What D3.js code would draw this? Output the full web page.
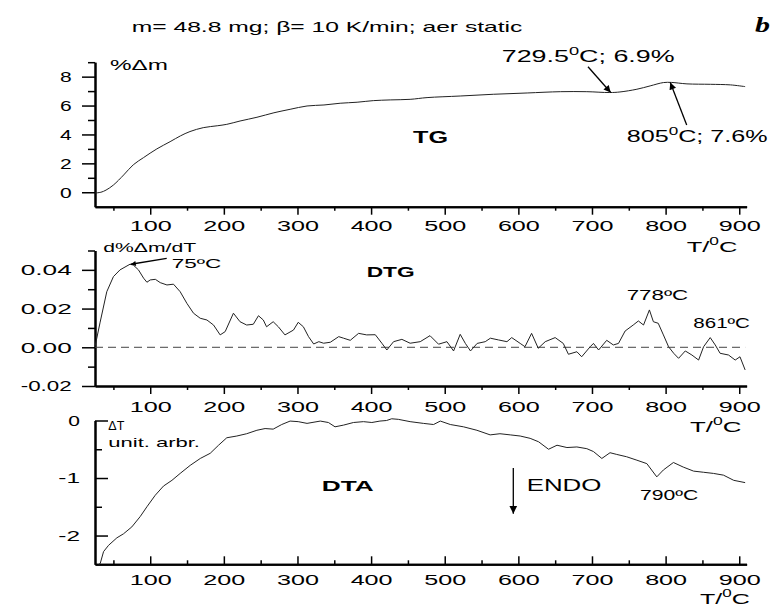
<!DOCTYPE html>
<html><head><meta charset="utf-8">
<script src="https://cdn.jsdelivr.net/npm/d3@7"></script>
<style>body{margin:0;background:#fff}svg{display:block}</style>
</head><body><svg id="c" width="781" height="605"></svg>
<script>
// ---------- data ----------
const tgT = [25,33,40,50,64,77,91,109,127,141,154,172,191,204,222,245,268,290,313,336,358,381,403,426,453,476,521,566,612,657,693,724,738,761,779,797,808,829,861,888,908];
const tgV = [-0.05,0.0,0.15,0.5,1.2,1.9,2.4,3.0,3.5,3.9,4.2,4.47,4.6,4.7,4.93,5.19,5.5,5.74,5.97,6.04,6.16,6.23,6.34,6.39,6.43,6.55,6.66,6.78,6.87,6.96,6.96,6.9,6.94,7.13,7.36,7.59,7.6,7.5,7.47,7.43,7.31];

const dtgT = [25,32,41,50,59,72.5,77,84,91,95.5,100,107,113.6,122.7,131.6,140.7,149.8,158.8,167.9,177,186,195,201.8,213,222,231,240,247,253.6,258,267,274,283,294.6,301,308,315,322,329,335.5,344.6,356,362.6,371.7,383,394,405.7,414.6,421.4,430.5,441.8,453,466.7,480,491.6,503,512,521,528,535,544,555,562,573,584.5,591,602.5,609,618,627,636.5,650,661,668,679.5,686,697.6,702,709,720,729,736,745,756,763,770,778,783.4,790,797,804,811,817.6,826.7,835.7,844.8,851.6,860.6,867.4,874,885.5,894.5,901,908];
const dtgV = [0.0003,0.013,0.0287,0.0365,0.040,0.0429,0.0425,0.040,0.0357,0.0336,0.0348,0.0351,0.0334,0.0322,0.0326,0.0287,0.0227,0.0176,0.015,0.0141,0.0115,0.0064,0.0081,0.0176,0.0132,0.0115,0.0119,0.0163,0.0141,0.0106,0.0132,0.0106,0.0064,0.0089,0.0129,0.0106,0.0055,0.0017,0.0029,0.0021,0.0026,0.0055,0.0047,0.0036,0.0072,0.0064,0.0065,0.0021,-0.0014,0.0029,0.0041,0.0021,0.0029,0.006,0.0016,0.0029,-0.0019,0.0067,0.002,-0.0019,0.002,0.0029,0.0047,0.0038,0.0029,0.005,0.002,0.0003,0.0072,-0.0005,0.0029,0.005,0.002,-0.0036,-0.0023,-0.0049,0.0003,0.002,-0.0014,0.0036,0.0012,0.002,0.0084,0.0115,0.0136,0.0115,0.0193,0.0132,0.0124,0.0064,0.0003,-0.0031,-0.0057,-0.0019,-0.004,-0.0066,0.0003,0.005,0.0012,-0.0031,-0.004,-0.0066,-0.0049,-0.0117];

const dtaT = [30,32,36.6,43.4,54.7,63.7,75,86.4,95.5,106.8,118,129.5,140.7,154.3,168,181.5,192.8,204,217.6,231,244.9,256,267,278.6,290,301,313,331,342,351,362.6,376,389.6,401,412,421,428,437,453,471,484.8,494,507.6,525.5,543.7,561.7,575,589,602.5,616,627.5,641,652.5,666,679.5,693,702,713.4,724.5,733.6,747,761,774.5,788,797,810.6,824,838,851.6,865,878.6,892.5,908];
const dtaV = [-2.5,-2.49,-2.28,-2.17,-2.04,-1.97,-1.85,-1.67,-1.50,-1.30,-1.14,-1.04,-0.92,-0.78,-0.66,-0.57,-0.43,-0.30,-0.27,-0.23,-0.17,-0.14,-0.15,-0.07,-0.01,-0.02,-0.05,-0.01,-0.035,-0.11,-0.08,-0.035,-0.02,-0.035,-0.01,0.0,0.03,0.02,-0.02,-0.05,-0.07,-0.01,-0.07,-0.11,-0.17,-0.25,-0.23,-0.25,-0.27,-0.31,-0.37,-0.50,-0.43,-0.47,-0.46,-0.49,-0.54,-0.66,-0.56,-0.59,-0.63,-0.69,-0.75,-0.98,-0.86,-0.73,-0.81,-0.88,-0.90,-0.92,-0.95,-1.04,-1.08];

const xMajor = [100,200,300,400,500,600,700,800,900];
const xMinor = [50,150,250,350,450,550,650,750,850];
const tgMajor = [0,2,4,6,8], tgMinor = [1,3,5,7,9];
const dtgMajor = [-0.02,0,0.02,0.04], dtgMinor = [-0.01,0.01,0.03,0.05];
const dtaMajor = [-2,-1,0], dtaMinor = [-1.5,-0.5];

const tgNoteT = [729.5, 805], tgNoteV = [6.9, 7.6];
const dtgPeakT = 75, dtgPeakV = 0.0429;

// ---------- setup ----------
const svg = d3.select('#c');
const FONT = "'Liberation Sans', Arial, Helvetica, sans-serif";
const x = d3.scaleLinear().domain([25, 910]).range([95, 746.6]);
const yTG = d3.scaleLinear().domain([-1, 9]).range([206.7, 62.2]);
const yDTG = d3.scaleLinear().domain([-0.02, 0.05]).range([386, 250.5]);
const yDTA = d3.scaleLinear().domain([-2.5, 0]).range([564.3, 420.5]);

const defs = svg.append('defs');
function marker(id, w, h) {
  defs.append('marker').attr('id', id).attr('viewBox', '0 0 10 10')
    .attr('refX', 10).attr('refY', 5).attr('markerWidth', w).attr('markerHeight', h)
    .attr('markerUnits', 'userSpaceOnUse').attr('orient', 'auto')
    .append('path').attr('d', 'M0,0 L10,5 L0,10 Z').attr('fill', '#000');
}
marker('ah', 10, 7); marker('ah2', 15, 5); marker('ah3', 8, 10);

function styleAxis(g) {
  g.select('.domain').attr('stroke', '#000').attr('stroke-width', 2);
  g.selectAll('.tick line').attr('stroke', '#000').attr('stroke-width', 1.5);
  g.selectAll('text').attr('font-family', FONT).attr('font-size', 15).attr('fill', '#000');
}
// target rendered widths of tick labels (the original is horizontally stretched)
function tickWidth(str) {
  if (str.includes('.')) return 51;
  if (str.length === 1) return 11.7;
  if (str.length === 2) return 21.7;
  return 42;
}
function stretchTicks(g, off) {
  g.selectAll('.tick text').each(function () {
    const t = d3.select(this);
    t.text(t.text().replace('−', '-'));
    t.attr('transform', null);
    const bb = this.getBBox();
    const s = tickWidth(t.text()) / bb.width;
    t.attr('transform', `scale(${s},1)`);
    if (off !== null) t.attr('x', -off / s);
  });
}

function axes(y, yMaj, yMin, fmt, inward, xPad, yPad) {
  const s = inward ? -1 : 1;
  const y0 = y.range()[0];
  const gxm = svg.append('g').attr('transform', `translate(0,${y0})`)
    .call(d3.axisBottom(x).tickValues(xMinor).tickSize(s * 4).tickSizeOuter(0).tickFormat(''));
  styleAxis(gxm);
  const gx = svg.append('g').attr('transform', `translate(0,${y0})`)
    .call(d3.axisBottom(x).tickValues(xMajor).tickSize(s * 8).tickSizeOuter(0).tickPadding(xPad));
  styleAxis(gx);
  stretchTicks(gx, null);
  const gym = svg.append('g').attr('transform', `translate(95,0)`)
    .call(d3.axisLeft(y).tickValues(yMin).tickSize(s * 7).tickSizeOuter(0).tickFormat(''));
  styleAxis(gym);
  const gy = svg.append('g').attr('transform', `translate(95,0)`)
    .call(d3.axisLeft(y).tickValues(yMaj).tickSize(s * 13).tickSizeOuter(0).tickPadding(yPad).tickFormat(fmt));
  styleAxis(gy);
  stretchTicks(gy, Math.max(s * 13, 0) + yPad);
}

axes(yTG, tgMajor, tgMinor, d3.format('d'), false, 5.5, 10.3);
axes(yDTG, dtgMajor, dtgMinor, d3.format('.2f'), false, 7, 10.3);
axes(yDTA, dtaMajor, dtaMinor, d3.format('d'), true, 10.5, 15);

// zero line
svg.append('line').attr('x1', x(25)).attr('x2', x(908)).attr('y1', yDTG(0)).attr('y2', yDTG(0))
  .attr('stroke', '#444').attr('stroke-width', 1).attr('stroke-dasharray', '8,5');

// curves
function curve(T, V, y, c) {
  svg.append('path').datum(d3.zip(T, V))
    .attr('d', d3.line().x(d => x(d[0])).y(d => y(d[1])).curve(c))
    .attr('fill', 'none').attr('stroke', '#222').attr('stroke-width', 1);
}
curve(tgT, tgV, yTG, d3.curveCatmullRom);
curve(dtgT, dtgV, yDTG, d3.curveLinear);
curve(dtaT, dtaV, yDTA, d3.curveLinear);

// ---------- text ----------
function label(px, py, parts, size, width, opt = {}) {
  const g = svg.append('g').attr('transform', `translate(${px},${py})`);
  const t = g.append('text').attr('font-family', opt.family || FONT).attr('font-size', size)
    .attr('font-weight', opt.weight || 'normal').attr('font-style', opt.style || 'normal').attr('fill', '#000');
  let up = false;
  parts.forEach(p => {
    const sup = Array.isArray(p);
    const str = sup ? p[0] : p;
    const ts = t.append('tspan').text(str);
    if (sup) { ts.attr('font-size', size * 0.68).attr('dy', -size * 0.42); up = true; }
    else if (up) { ts.attr('dy', size * 0.42); up = false; }
  });
  const bb = t.node().getBBox();
  const s = width / bb.width;
  t.attr('transform', `scale(${s},1) translate(${-bb.x},0)`);
  return g;
}

label(131.7, 31.7, ['m= 48.8 mg; β= 10 K/min; aer static'], 14, 391);
label(755, 31.7, ['b'], 21, 15, {family: "'Liberation Serif', 'Times New Roman', serif", weight: 'bold', style: 'italic'});
label(110, 70, ['%Δm'], 15, 58);
label(501.7, 61.7, ['729.5', ['0'], 'C; 6.9%'], 16, 173);
label(626.7, 141.7, ['805', ['0'], 'C; 7.6%'], 16, 141);
label(413, 143.3, ['TG'], 16, 35, {weight: 'bold'});
label(686.7, 251.7, ['T/', ['0'], 'C'], 15, 51);

label(103.3, 251.7, ['d%Δm/dT'], 13, 93);
label(171.7, 268.3, ['75ºC'], 13.5, 50);
label(366.7, 277.3, ['DTG'], 15, 48, {weight: 'bold'});
label(626.7, 300, ['778ºC'], 14, 61.6);
label(693.3, 328.3, ['861ºC'], 14, 56.7);
label(690, 431.7, ['T/', ['0'], 'C'], 15, 51.7);

label(108.3, 430.3, ['ΔT'], 12, 16.7);
label(108.3, 447, ['unit. arbr.'], 13.5, 91.7);
label(321.7, 491.3, ['DTA'], 15, 52.3, {weight: 'bold'});
label(526.7, 491.3, ['ENDO'], 16.5, 75);
label(640, 500.3, ['790ºC'], 14, 58.3);
label(700, 603.5, ['T/', ['0'], 'C'], 15, 50);

// ---------- arrows ----------
function arrow(x1, y1, x2, y2, m, w) {
  svg.append('line').attr('x1', x1).attr('y1', y1).attr('x2', x2).attr('y2', y2)
    .attr('stroke', '#000').attr('stroke-width', w).attr('marker-end', `url(#${m})`);
}
arrow(588, 66.7, x(tgNoteT[0]) - 3, yTG(tgNoteV[0]), 'ah', 1.3);
arrow(686.7, 125, x(tgNoteT[1]) + 1, yTG(tgNoteV[1]), 'ah', 1.3);
arrow(166.7, 258.3, x(dtgPeakT) - 1, yDTG(dtgPeakV), 'ah2', 1.3);
arrow(513.3, 468, 513.3, 513.7, 'ah3', 1.3);
</script></body></html>
